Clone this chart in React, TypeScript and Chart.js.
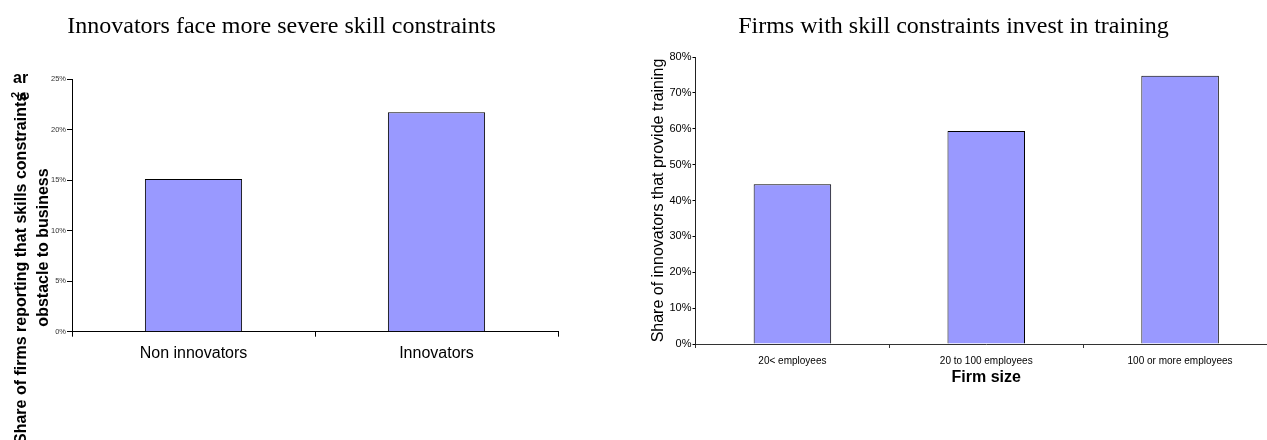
import React, { useEffect, useRef } from "react";
import { Chart, registerables } from "chart.js";

Chart.register(...registerables);

// ---- Left chart data ----
const leftTitle = "Innovators face more severe skill constraints";
const leftCategories = ["Non innovators", "Innovators"];
const leftValues = [15.1, 21.7];
const leftYMax = 25;
const leftYStep = 5;
const leftYTitleLine1 = "Share of firms reporting that skills constraints";
const leftYTitleLine2 = "obstacle to business";

// ---- Right chart data ----
const rightTitle = "Firms with skill constraints invest in training";
const rightCategories = ["20< employees", "20 to 100 employees", "100 or more employees"];
const rightValues = [44.5, 59.4, 74.8];
const rightYMax = 80;
const rightYStep = 10;
const rightYTitle = "Share of innovators that provide training";
const rightXTitle = "Firm size";

const BAR_COLOR = "#9999FF";
const SANS = '"Liberation Sans", Arial, sans-serif';
const SERIF = '"Liberation Serif", "Times New Roman", serif';

function titlePlugin(id: string, text: string, cx: number) {
  return {
    id,
    afterDraw(chart: any) {
      const ctx = chart.ctx;
      ctx.save();
      ctx.fillStyle = "#000";
      ctx.font = `24px ${SERIF}`;
      ctx.textAlign = "center";
      ctx.textBaseline = "alphabetic";
      ctx.fillText(text, cx, 33);
      ctx.restore();
    },
  };
}

const leftYTitlePlugin = {
  id: "leftYTitle",
  afterDraw(chart: any) {
    const ctx = chart.ctx;
    ctx.save();
    ctx.fillStyle = "#000";
    ctx.font = `bold 16px ${SANS}`;
    // first line (overflowing, starts below the canvas)
    ctx.save();
    ctx.translate(22, 444);
    ctx.rotate(-Math.PI / 2);
    ctx.textAlign = "left";
    ctx.textBaseline = "middle";
    ctx.fillText(leftYTitleLine1, 0, 0);
    ctx.restore();
    // overlapping artefacts of the wrapped title
    ctx.save();
    ctx.translate(25, 96);
    ctx.rotate(-Math.PI / 2);
    ctx.textAlign = "center";
    ctx.textBaseline = "middle";
    ctx.fillText("e", 0, 0);
    ctx.restore();
    ctx.save();
    ctx.font = `bold 11px ${SANS}`;
    ctx.translate(16, 95);
    ctx.rotate(-Math.PI / 2);
    ctx.textAlign = "center";
    ctx.textBaseline = "middle";
    ctx.fillText("2", 0, 0);
    ctx.restore();
    ctx.textAlign = "left";
    ctx.textBaseline = "alphabetic";
    ctx.fillText("ar", 13, 83);
    // second line
    ctx.save();
    ctx.translate(44, 247.5);
    ctx.rotate(-Math.PI / 2);
    ctx.textAlign = "center";
    ctx.textBaseline = "middle";
    ctx.fillText(leftYTitleLine2, 0, 0);
    ctx.restore();
    ctx.restore();
  },
};

function LeftChart() {
  const ref = useRef<HTMLCanvasElement>(null);
  useEffect(() => {
    if (!ref.current) return;
    const chart = new Chart(ref.current, {
      type: "bar",
      data: {
        labels: leftCategories,
        datasets: [
          {
            data: leftValues,
            backgroundColor: BAR_COLOR,
            borderColor: "#000",
            borderWidth: 1,
            barPercentage: 0.4,
            categoryPercentage: 1,
          },
        ],
      },
      options: {
        animation: false,
        responsive: false,
        devicePixelRatio: 1,
        layout: { padding: { top: 79, right: 72, bottom: 0, left: 0 } },
        plugins: { legend: { display: false }, title: { display: false }, tooltip: { enabled: false } },
        scales: {
          x: {
            afterFit: (s: any) => {
              s.height = 108.3;
            },
            grid: { offset: true, drawOnChartArea: false, drawTicks: true, tickLength: 5, color: "#000" },
            border: { display: true, color: "#000", width: 1 },
            ticks: { color: "#000", font: { family: SANS, size: 16 }, padding: 7.7 },
          },
          y: {
            min: 0,
            max: leftYMax,
            afterFit: (s: any) => {
              s.width = 72;
            },
            grid: { drawOnChartArea: false, drawTicks: true, tickLength: 5, color: "#000" },
            border: { display: true, color: "#000", width: 1 },
            ticks: {
              stepSize: leftYStep,
              color: "#333",
              padding: 1,
              font: { family: SANS, size: 7.5 },
              callback: (v: any) => `${v}%`,
            },
          },
        },
      },
      plugins: [titlePlugin("leftTitle", leftTitle, 281.5), leftYTitlePlugin],
    } as any);
    return () => chart.destroy();
  }, []);
  return (
    <canvas
      ref={ref}
      width={630}
      height={440}
      style={{ position: "absolute", left: 0, top: 0, width: 630, height: 440 }}
    />
  );
}

function RightChart() {
  const ref = useRef<HTMLCanvasElement>(null);
  useEffect(() => {
    if (!ref.current) return;
    const chart = new Chart(ref.current, {
      type: "bar",
      data: {
        labels: rightCategories,
        datasets: [
          {
            data: rightValues,
            backgroundColor: BAR_COLOR,
            borderColor: "#000",
            borderWidth: 1,
            barPercentage: 0.4,
            categoryPercentage: 1,
          },
        ],
      },
      options: {
        animation: false,
        responsive: false,
        devicePixelRatio: 1,
        layout: { padding: { top: 57, right: 13, bottom: 0, left: 0 } },
        plugins: { legend: { display: false }, title: { display: false }, tooltip: { enabled: false } },
        scales: {
          x: {
            afterFit: (s: any) => {
              s.height = 96;
            },
            grid: { offset: true, drawOnChartArea: false, drawTicks: true, tickLength: 4, color: "#333" },
            border: { display: true, color: "#333", width: 1 },
            ticks: { color: "#000", font: { family: SANS, size: 10 }, padding: 7 },
            title: {
              display: true,
              text: rightXTitle,
              color: "#000",
              font: { family: SANS, size: 16, weight: "bold" },
              padding: { top: 0, bottom: 52.4 },
            },
          },
          y: {
            min: 0,
            max: rightYMax,
            afterFit: (s: any) => {
              s.width = 65.5;
            },
            grid: { drawOnChartArea: false, drawTicks: true, tickLength: 3, color: "#000" },
            border: { display: true, color: "#222", width: 1 },
            ticks: {
              stepSize: rightYStep,
              color: "#000",
              padding: 1,
              font: { family: SANS, size: 11 },
              callback: (v: any) => `${v}%`,
            },
            title: {
              display: true,
              text: rightYTitle,
              color: "#000",
              font: { family: SANS, size: 16 },
              padding: { top: 19.4, bottom: 0 },
            },
          },
        },
      },
      plugins: [titlePlugin("rightTitle", rightTitle, 323.5)],
    } as any);
    return () => chart.destroy();
  }, []);
  return (
    <canvas
      ref={ref}
      width={660}
      height={440}
      style={{ position: "absolute", left: 630, top: 0, width: 660, height: 440 }}
    />
  );
}

export default function App() {
  return (
    <div
      style={{
        position: "absolute",
        left: 0,
        top: 0,
        width: 1267,
        height: 440,
        overflow: "hidden",
        background: "#fff",
      }}
    >
      <LeftChart />
      <RightChart />
    </div>
  );
}
